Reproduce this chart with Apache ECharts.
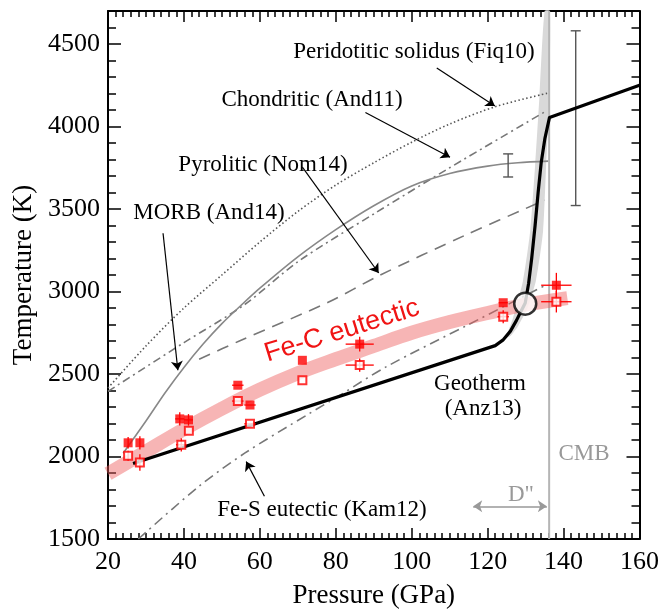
<!DOCTYPE html>
<html>
<head>
<meta charset="utf-8">
<script src="https://cdn.jsdelivr.net/npm/echarts@6/dist/echarts.min.js"></script>
<style>
  html, body { margin: 0; padding: 0; background: #fff; }
  #chart { width: 662px; height: 614px; }
</style>
</head>
<body>
<div id="chart"></div>
<script>
// melting curves, [pressure GPa, temperature K]
const fiq10 = [[20, 2415], [30, 2670], [40, 2900], [50, 3100], [60, 3300], [70, 3485], [80, 3645], [90, 3780], [100, 3905], [110, 4015], [122, 4120], [136, 4203]];
const and11 = [[20, 2395], [40, 2690], [56, 2921], [70, 3180], [90, 3470], [110, 3750], [135, 4088]];
const and14 = [[24, 2020], [30, 2215], [35, 2385], [40, 2540], [45, 2680], [50, 2805], [55, 2915], [60, 3020], [70, 3210], [80, 3375], [90, 3520], [100, 3640], [110, 3715], [120, 3760], [128, 3780], [136, 3790]];
const nom14 = [[44, 2590], [54.6, 2700], [78, 2935], [91.3, 3095], [114, 3340], [135, 3553]];
const kam12 = [[28, 1500], [44, 1820], [56, 2020], [73, 2260], [81, 2370], [93, 2540], [115, 2800], [135, 3035]];
const anz13 = [[26.6, 1958], [122, 2672], [124, 2705], [126, 2760], [127.6, 2825], [128.8, 2880], [129.9, 2930], [130.8, 3050], [131.6, 3200], [132.5, 3400], [133.3, 3600], [134.1, 3780], [135.1, 3930], [136.3, 4055], [160, 4250]];
const feC = [[20, 1895], [30, 2030], [40, 2165], [50, 2290], [60, 2405], [70, 2505], [80, 2590], [90, 2670], [100, 2750], [110, 2815], [120, 2870], [130, 2920], [141, 2960]];
// grey uncertainty band along the steep geotherm
const geoBand = [[124.9, 2721], [126.7, 2841], [129.3, 3064], [131.2, 3365], [132.5, 3762], [133.6, 4165], [135, 4700],
                 [136.4, 4700], [136.2, 4165], [135.4, 3762], [134.6, 3365], [132.7, 3064], [130.5, 2900], [128, 2790], [126, 2730]];
const cmbP = 136.2;
const crossing = [[129.9, 2926]];
// error bars on solidus curves: [P, Tlow, Thigh]
const solidusErr = [[125.4, 3694, 3834], [143.2, 3521, 4580]];

// Fe-C eutectic experiments
const filledP = [25.3, 28.4, 38.9, 41.2, 54.2, 57.4, 71.2, 86.3, 124.1, 138.1];
const filledT = [2083, 2083, 2228, 2222, 2432, 2312, 2583, 2681, 2932, 3038];
const filledPErr = [0, 0, 1.2, 1.2, 1.5, 1.5, 0, 3.7, 1.2, 4];
const filledTErr = [35, 40, 40, 35, 0, 0, 0, 45, 0, 75];
const openP = [25.3, 28.4, 39.3, 41.3, 54.2, 57.4, 71.2, 86.3, 124.1, 138.1];
const openT = [2005, 1963, 2071, 2156, 2336, 2198, 2462, 2554, 2847, 2938];
const openPErr = [0, 0, 1.4, 0, 1.5, 1.5, 0, 3.7, 1.5, 4];
const openTErr = [30, 50, 40, 0, 0, 0, 0, 40, 40, 65];

// annotation arrows, tail -> head
const arrows = [
  [[106.6, 4355], [121.9, 4124]],
  [[87.8, 4085], [110.1, 3814]],
  [[71.2, 3754], [91.3, 3112]],
  [[34.5, 3353], [38.4, 2523]],
  [[61.2, 1759], [56.4, 1969]]
];
const dLayer = [[[116.2, 1698], [135.6, 1698]]];

const serif = 'Liberation Serif';
const chart = echarts.init(document.getElementById('chart'));

const xAxisBase = {
  type: 'value', min: 20, max: 160, interval: 20,
  axisLine: { lineStyle: { color: '#000', width: 2 } },
  axisTick: { inside: true, length: 11, lineStyle: { color: '#000', width: 1.5 } },
  minorTick: { show: true, splitNumber: 10, length: 6, lineStyle: { color: '#000', width: 1.5 } },
  splitLine: { show: false },
  minorSplitLine: { show: false }
};
const yMajor = {
  type: 'value', min: 1500, max: 4700, interval: 500,
  axisLine: { show: true, lineStyle: { color: '#000', width: 2 } },
  axisTick: { inside: true, length: 13, lineStyle: { color: '#000', width: 1.5 } },
  splitLine: { show: false }
};
const yMinor = {
  type: 'value', min: 1500, max: 4700, interval: 100,
  axisLine: { show: false },
  axisTick: { inside: true, length: 8, lineStyle: { color: '#000', width: 1.5 } },
  axisLabel: { show: false },
  splitLine: { show: false }
};

const curve = (data, color, type, width) => ({
  type: 'line', data, symbol: 'none', smooth: 0.3, silent: true,
  lineStyle: { color, type, width, cap: 'butt' }, z: 2
});

const errBars = (ps, ts, pe, te) => ps.map((p, i) => [p, ts[i], pe[i], te[i]]);

const option = {
  animation: false,
  backgroundColor: '#fff',
  grid: { left: 108, right: 20, top: 11, bottom: 71, containLabel: false },
  xAxis: [
    Object.assign({}, xAxisBase, {
      position: 'bottom',
      axisLabel: { color: '#000', fontFamily: serif, fontSize: 26, margin: 10 },
      name: 'Pressure (GPa)', nameLocation: 'middle', nameGap: 43,
      nameTextStyle: { color: '#000', fontFamily: serif, fontSize: 27 }
    }),
    Object.assign({}, xAxisBase, { position: 'top', axisLabel: { show: false } })
  ],
  yAxis: [
    Object.assign({}, yMajor, {
      position: 'left',
      axisLabel: {
        color: '#000', fontFamily: serif, fontSize: 26, margin: 8,
        formatter: v => (v % 500 === 0 ? String(v) : '')
      },
      name: 'Temperature (K)', nameLocation: 'middle', nameGap: 63,
      nameTextStyle: { color: '#000', fontFamily: serif, fontSize: 27 }
    }),
    Object.assign({}, yMinor, { position: 'left' }),
    Object.assign({}, yMajor, { position: 'right', axisLabel: { show: false } }),
    Object.assign({}, yMinor, { position: 'right' })
  ],
  series: [
    {
      type: 'custom', data: geoBand, silent: true, z: 1,
      renderItem: (params, api) => {
        if (params.dataIndex !== 0) return null;
        return { type: 'polygon', shape: { points: geoBand.map(p => api.coord(p)), smooth: 0.2 }, style: { fill: '#d9d9d9' } };
      }
    },
    curve(fiq10, '#555', [1.5, 2.5], 1.6),
    curve(and11, '#777', [8, 4, 2, 4], 1.6),
    curve(and14, '#888', 'solid', 1.6),
    curve(nom14, '#777', [12, 8], 1.6),
    curve(kam12, '#777', [10, 5, 2, 5], 1.6),
    {
      type: 'line', data: [[cmbP, 1500], [cmbP, 4700]], symbol: 'none', silent: true,
      lineStyle: { color: '#b5b5b5', width: 2 }, z: 2
    },
    {
      type: 'line', data: feC, symbol: 'none', smooth: 0.4, silent: true,
      lineStyle: { color: 'rgba(238, 90, 90, 0.45)', width: 14, cap: 'butt' }, z: 3
    },
    {
      type: 'line', data: anz13, symbol: 'none', silent: true,
      lineStyle: { color: '#000', width: 3.2, join: 'round' }, z: 4
    },
    {
      type: 'custom', data: solidusErr, silent: true, z: 4,
      renderItem: (params, api) => {
        const p = api.value(0);
        const lo = api.coord([p, api.value(1)]);
        const hi = api.coord([p, api.value(2)]);
        const st = { stroke: '#555', lineWidth: 1.4 };
        return {
          type: 'group', children: [
            { type: 'line', shape: { x1: lo[0], y1: lo[1], x2: hi[0], y2: hi[1] }, style: st },
            { type: 'line', shape: { x1: lo[0] - 5, y1: lo[1], x2: lo[0] + 5, y2: lo[1] }, style: st },
            { type: 'line', shape: { x1: hi[0] - 5, y1: hi[1], x2: hi[0] + 5, y2: hi[1] }, style: st }
          ]
        };
      }
    },
    {
      type: 'custom', silent: true, z: 5,
      data: errBars(filledP, filledT, filledPErr, filledTErr).concat(errBars(openP, openT, openPErr, openTErr)),
      renderItem: (params, api) => {
        const p = api.value(0), t = api.value(1), dp = api.value(2), dt = api.value(3);
        const st = { stroke: '#f00', lineWidth: 1.3 };
        const kids = [];
        if (dp > 0) {
          const a = api.coord([p - dp, t]), b = api.coord([p + dp, t]);
          kids.push({ type: 'line', shape: { x1: a[0], y1: a[1], x2: b[0], y2: b[1] }, style: st });
        }
        if (dt > 0) {
          const a = api.coord([p, t - dt]), b = api.coord([p, t + dt]);
          kids.push({ type: 'line', shape: { x1: a[0], y1: a[1], x2: b[0], y2: b[1] }, style: st });
        }
        return { type: 'group', children: kids };
      }
    },
    {
      type: 'scatter', data: filledP.map((p, i) => [p, filledT[i]]), symbol: 'rect', symbolSize: 9,
      itemStyle: { color: '#f00' }, silent: true, z: 6
    },
    {
      type: 'scatter', data: openP.map((p, i) => [p, openT[i]]), symbol: 'rect', symbolSize: 8,
      itemStyle: { color: '#fff', borderColor: '#f00', borderWidth: 2 }, silent: true, z: 6
    },
    {
      type: 'scatter', data: crossing, symbol: 'circle', symbolSize: 22,
      itemStyle: { color: '#fff', borderColor: '#000', borderWidth: 2.5 }, silent: true, z: 7
    },
    {
      type: 'lines', coordinateSystem: 'cartesian2d', data: arrows.map(c => ({ coords: c })),
      symbol: ['none', 'arrow'], symbolSize: [0, 9], silent: true, z: 8,
      lineStyle: { color: '#000', width: 1.2, opacity: 1, curveness: 0 }
    },
    {
      type: 'lines', coordinateSystem: 'cartesian2d', data: dLayer.map(c => ({ coords: c })),
      symbol: ['arrow', 'arrow'], symbolSize: 9, silent: true, z: 8,
      lineStyle: { color: '#999', width: 1.5, opacity: 1, curveness: 0 }
    }
  ],
  graphic: [
    { type: 'text', x: 414, y: 52, style: { text: 'Peridotitic solidus (Fiq10)', font: '23px "Liberation Serif"', fill: '#000', align: 'center', verticalAlign: 'middle' } },
    { type: 'text', x: 312, y: 100, style: { text: 'Chondritic (And11)', font: '23px "Liberation Serif"', fill: '#000', align: 'center', verticalAlign: 'middle' } },
    { type: 'text', x: 263, y: 165, style: { text: 'Pyrolitic (Nom14)', font: '23px "Liberation Serif"', fill: '#000', align: 'center', verticalAlign: 'middle' } },
    { type: 'text', x: 209, y: 213, style: { text: 'MORB (And14)', font: '23px "Liberation Serif"', fill: '#000', align: 'center', verticalAlign: 'middle' } },
    { type: 'text', x: 480, y: 384, style: { text: 'Geotherm', font: '23px "Liberation Serif"', fill: '#000', align: 'center', verticalAlign: 'middle' } },
    { type: 'text', x: 483, y: 409, style: { text: '(Anz13)', font: '23px "Liberation Serif"', fill: '#000', align: 'center', verticalAlign: 'middle' } },
    { type: 'text', x: 322, y: 510, style: { text: 'Fe-S eutectic (Kam12)', font: '23px "Liberation Serif"', fill: '#000', align: 'center', verticalAlign: 'middle' } },
    { type: 'text', x: 584, y: 454, style: { text: 'CMB', font: '23px "Liberation Serif"', fill: '#999', align: 'center', verticalAlign: 'middle' } },
    { type: 'text', x: 521, y: 495, style: { text: 'D"', font: '23px "Liberation Serif"', fill: '#999', align: 'center', verticalAlign: 'middle' } },
    { type: 'text', x: 342, y: 331, rotation: 17.2 * Math.PI / 180, style: { text: 'Fe-C eutectic', font: '27px "Liberation Sans"', fill: '#f01414', align: 'center', verticalAlign: 'middle' } }
  ]
};

chart.setOption(option);
</script>
</body>
</html>
